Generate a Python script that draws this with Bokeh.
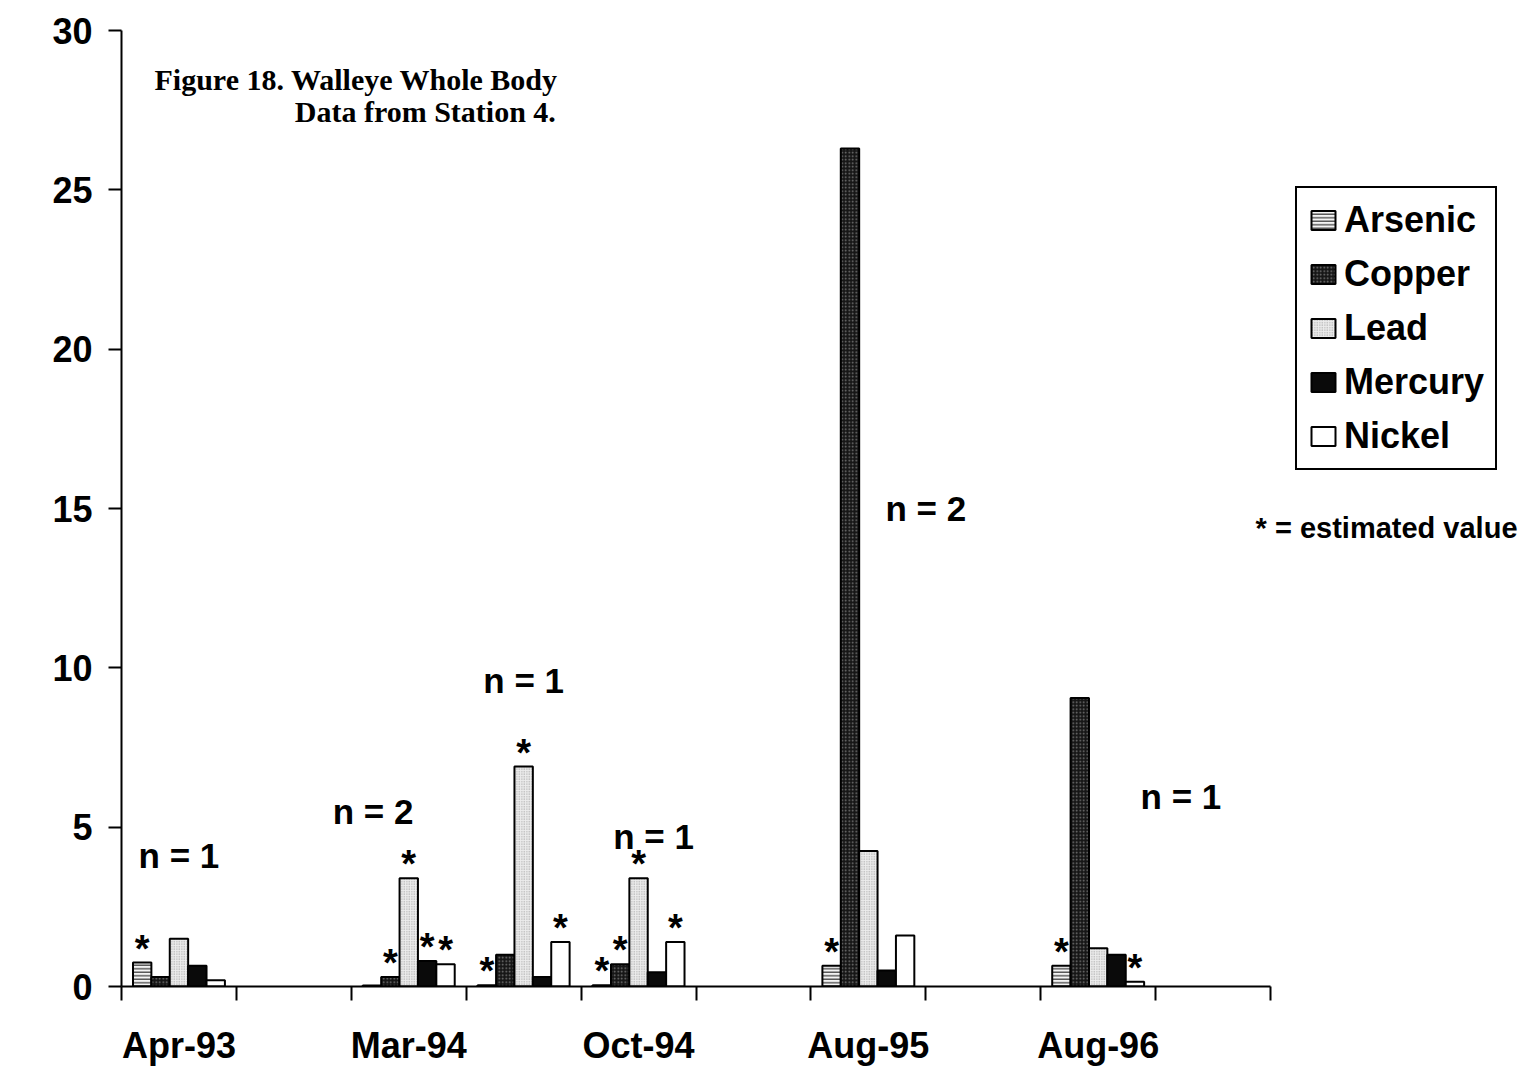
import math
from bokeh.plotting import figure
from bokeh.models import (Range1d, FixedTicker, Legend, LegendItem, Label,
                          ColumnDataSource)
from bokeh.core.properties import value
from bokeh.embed import file_html
from bokeh.resources import INLINE

nan = float("nan")

# Sampling dates on the category axis (only every other category is labelled)
dates = ["Apr-93", "", "Mar-94", "", "Oct-94", "", "Aug-95", "", "Aug-96", ""]

# Whole-body concentrations, mg/Kg
arsenic = [0.75, nan, 0.03, 0.04, 0.04, nan, 0.65, nan, 0.65, nan]
copper = [0.30, nan, 0.30, 1.00, 0.70, nan, 26.30, nan, 9.05, nan]
lead = [1.50, nan, 3.40, 6.90, 3.40, nan, 4.25, nan, 1.20, nan]
mercury = [0.65, nan, 0.80, 0.30, 0.45, nan, 0.50, nan, 1.00, nan]
nickel = [0.20, nan, 0.70, 1.40, 1.40, nan, 1.60, nan, 0.15, nan]

# Estimated values (flagged with an asterisk)
arsenic_est = [1, 0, 0, 1, 1, 0, 1, 0, 1, 0]
copper_est = [0, 0, 1, 0, 1, 0, 0, 0, 0, 0]
lead_est = [0, 0, 1, 1, 1, 0, 0, 0, 0, 0]
mercury_est = [0, 0, 1, 0, 0, 0, 0, 0, 0, 0]
nickel_est = [0, 0, 1, 1, 1, 0, 0, 0, 1, 0]

# Number of fish per sample
n_fish = [1, None, 2, 1, 1, None, 2, None, 1, None]

metals = ["Arsenic", "Copper", "Lead", "Mercury", "Nickel"]
series = [arsenic, copper, lead, mercury, nickel]
flags = [arsenic_est, copper_est, lead_est, mercury_est, nickel_est]

styles = {
    "Arsenic": dict(fill_color="#f4f4f4", hatch_pattern="horizontal_line",
                    hatch_color="#333333", hatch_scale=3.5, hatch_weight=1.2),
    "Copper": dict(fill_color="#161616", hatch_pattern="dot",
                   hatch_color="#7a7a7a", hatch_scale=3.5, hatch_weight=1.0),
    "Lead": dict(fill_color="#ececec", hatch_pattern="dot",
                 hatch_color="#9a9a9a", hatch_scale=2.5, hatch_weight=1.0),
    "Mercury": dict(fill_color="#0a0a0a"),
    "Nickel": dict(fill_color="#ffffff"),
}

SANS = value("Liberation Sans")

n_cat = len(dates)
bar_w = 0.16
offsets = [-0.32, -0.16, 0.0, 0.16, 0.32]

p = figure(width=1532, height=1070, output_backend="svg", toolbar_location=None,
           x_range=Range1d(0, 12.28), y_range=Range1d(0, 30),
           min_border_left=121, min_border_right=0, min_border_top=30,
           min_border_bottom=84)
p.outline_line_color = None
p.xgrid.visible = False
p.ygrid.visible = False
p.background_fill_color = "white"
p.border_fill_color = "white"

legend_items = []
star_x, star_y = [], []
for name, vals, est, off in zip(metals, series, flags, offsets):
    xs = [i + 0.5 + off for i in range(n_cat)]
    src = ColumnDataSource(dict(x=xs, top=vals))
    r = p.vbar(x="x", top="top", width=bar_w, source=src,
               line_color="black", line_width=2, **styles[name])
    legend_items.append(LegendItem(label=name, renderers=[r]))
    for xv, v, e in zip(xs, vals, est):
        if e and not math.isnan(v):
            star_x.append(xv)
            star_y.append(v)

p.text(x=star_x, y=star_y, text=["*"] * len(star_x), text_font=SANS,
       text_font_style="bold", text_font_size="38px", text_align="center",
       text_baseline="alphabetic", y_offset=-14, text_color="black")

# Sample-size annotations
n_pos = {0: (0.5, 4.1), 2: (2.19, 5.5), 3: (3.5, 9.6), 4: (4.63, 4.7),
         6: (7.0, 15.0), 8: (9.22, 5.96)}
nx, ny, nt = [], [], []
for i, n in enumerate(n_fish):
    if n is not None:
        nx.append(n_pos[i][0])
        ny.append(n_pos[i][1])
        nt.append(f"n = {n}")
p.text(x=nx, y=ny, text=nt, text_font=SANS, text_font_style="bold",
       text_font_size="35px", text_align="center", text_baseline="middle",
       text_color="black")

# Axes
xa = p.xaxis[0]
centers = [i + 0.5 for i, d in enumerate(dates) if d]
xa.ticker = FixedTicker(ticks=centers, minor_ticks=list(range(n_cat + 1)))
xa.major_label_overrides = {c: d for c, d in zip(centers, [d for d in dates if d])}
xa.bounds = (0, n_cat)
xa.major_tick_out = 0
xa.major_tick_in = 0
xa.minor_tick_out = 14
xa.minor_tick_in = 0
xa.minor_tick_line_width = 2
xa.minor_tick_line_color = "black"
xa.axis_line_width = 2
xa.axis_line_color = "black"
xa.major_label_standoff = 24
xa.major_label_text_font = "Liberation Sans"
xa.major_label_text_font_style = "bold"
xa.major_label_text_font_size = "36px"
xa.major_label_text_color = "black"

ya = p.yaxis[0]
ya.ticker = FixedTicker(ticks=[0, 5, 10, 15, 20, 25, 30])
ya.major_tick_out = 13
ya.major_tick_in = 0
ya.major_tick_line_width = 2
ya.major_tick_line_color = "black"
ya.minor_tick_line_color = None
ya.axis_line_width = 2
ya.axis_line_color = "black"
ya.major_label_standoff = 16
ya.major_label_text_font = "Liberation Sans"
ya.major_label_text_font_style = "bold"
ya.major_label_text_font_size = "36px"
ya.major_label_text_color = "black"

# Titles and notes
p.add_layout(Label(x=-0.845, y=17.1, text="mg/Kg", angle=math.pi / 2,
                   text_font="Liberation Serif", text_font_style="bold",
                   text_font_size="24px", text_align="center",
                   text_baseline="middle", text_color="black"))
p.add_layout(Label(x=3.8, y=28.45, text="Figure 18. Walleye Whole Body",
                   text_font="Liberation Serif", text_font_style="bold",
                   text_font_size="30px", text_align="right",
                   text_baseline="alphabetic", text_color="black"))
p.add_layout(Label(x=3.78, y=27.45, text="Data from Station 4.",
                   text_font="Liberation Serif", text_font_style="bold",
                   text_font_size="30px", text_align="right",
                   text_baseline="alphabetic", text_color="black"))
p.add_layout(Label(x=9.87, y=14.4, text="* = estimated value",
                   text_font="Liberation Sans", text_font_style="bold",
                   text_font_size="29px", text_align="left",
                   text_baseline="middle", text_color="black"))

legend = Legend(items=legend_items, location=(1174, 516), orientation="vertical",
                border_line_color="black", border_line_width=2,
                border_line_alpha=1.0,
                background_fill_color="white", background_fill_alpha=1.0,
                label_text_font="Liberation Sans", label_text_font_style="bold",
                label_text_font_size="36px", label_text_color="black",
                glyph_width=30, glyph_height=24, label_standoff=6,
                spacing=12, padding=11, margin=0)
p.add_layout(legend)

open("out.html", "w").write(file_html(p, INLINE))
